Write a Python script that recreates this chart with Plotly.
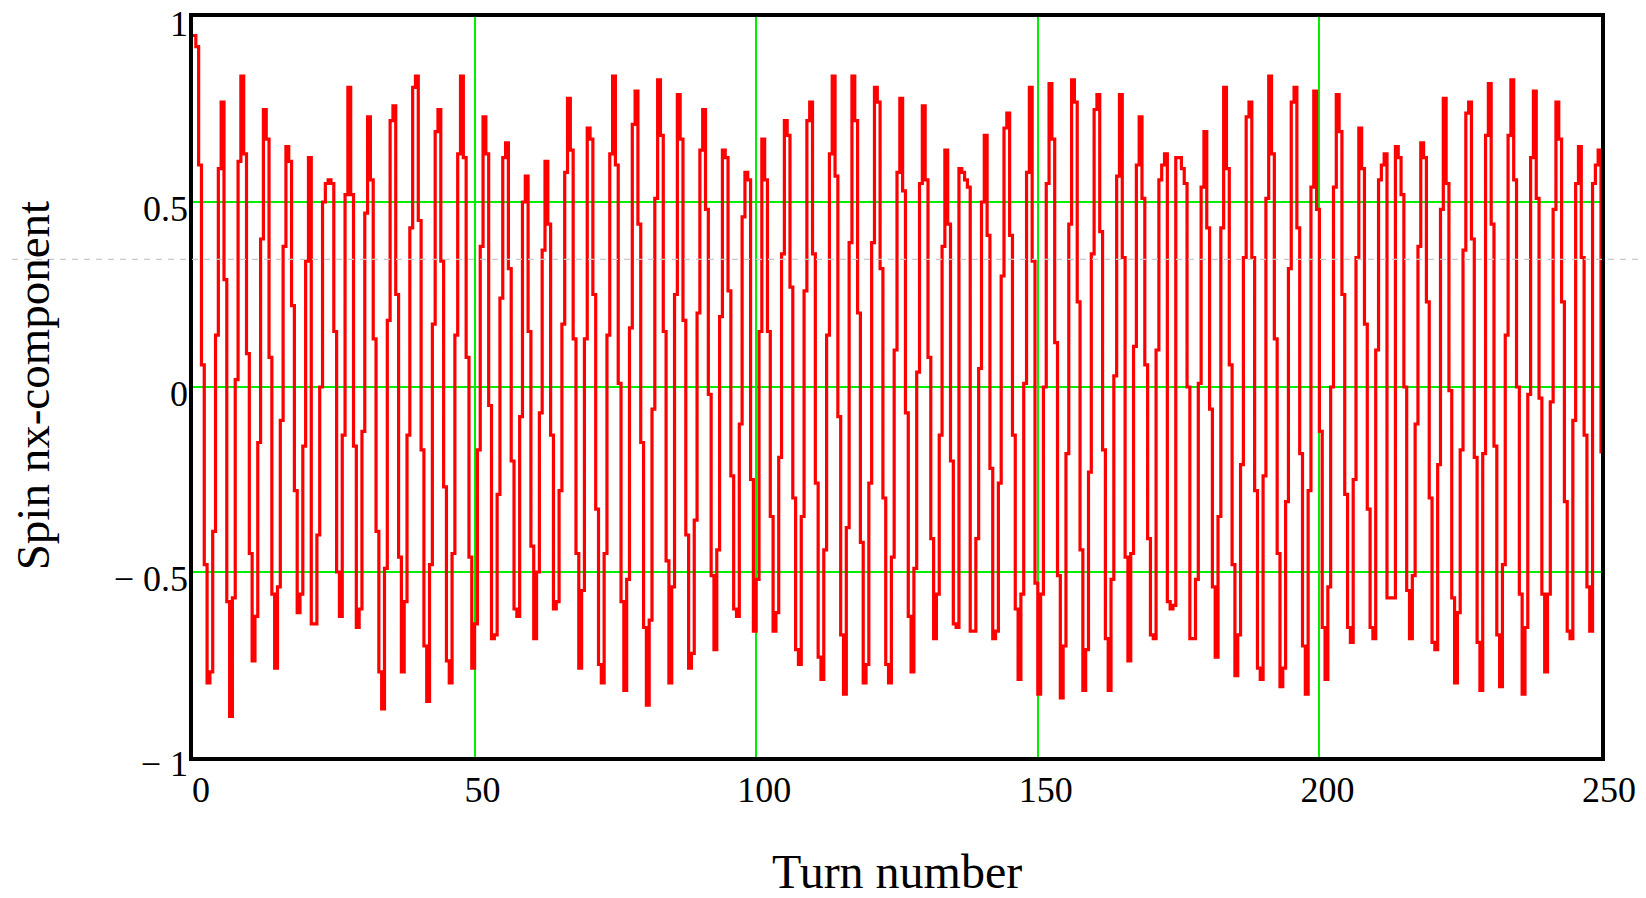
import plotly.graph_objects as go

turn_step = 0.5
nx = [
 0.95, 0.92, 0.60, 0.06, -0.48, -0.80, -0.77, -0.39, 0.14, 0.59,
 0.77, 0.29, -0.58, -0.89, -0.57, 0.02, 0.61, 0.84, 0.63, 0.09,
 -0.45, -0.74, -0.62, -0.15, 0.40, 0.75, 0.67, 0.08, -0.56, -0.76,
 -0.54, -0.09, 0.38, 0.65, 0.61, 0.22, -0.28, -0.61, -0.56, -0.16,
 0.34, 0.62, -0.64, -0.64, -0.40, 0.00, 0.50, 0.55, 0.56, 0.55,
 0.15, -0.50, -0.62, -0.13, 0.52, 0.81, 0.52, -0.16, -0.65, -0.60,
 -0.12, 0.47, 0.73, 0.56, 0.13, -0.39, -0.77, -0.87, -0.49, 0.18,
 0.72, 0.76, 0.25, -0.46, -0.77, -0.58, -0.13, 0.43, 0.81, 0.84,
 0.45, -0.17, -0.70, -0.85, -0.48, 0.17, 0.69, 0.75, 0.34, -0.27,
 -0.74, -0.80, -0.45, 0.14, 0.63, 0.84, 0.62, 0.08, -0.46, -0.76,
 -0.64, -0.17, 0.38, 0.73, 0.63, -0.05, -0.68, -0.67, -0.29, 0.24,
 0.62, 0.66, 0.32, -0.20, -0.60, -0.62, -0.08, 0.50, 0.57, 0.15,
 -0.43, -0.68, -0.50, -0.07, 0.37, 0.61, 0.44, -0.13, -0.60, -0.58,
 -0.28, 0.17, 0.58, 0.78, 0.64, 0.13, -0.45, -0.76, -0.55, 0.13,
 0.70, 0.67, 0.25, -0.33, -0.75, -0.80, -0.45, 0.14, 0.63, 0.84,
 0.60, 0.01, -0.58, -0.82, -0.52, 0.16, 0.71, 0.80, 0.44, -0.15,
 -0.65, -0.86, -0.63, -0.06, 0.51, 0.83, 0.68, 0.15, -0.47, -0.80,
 -0.54, 0.25, 0.79, 0.67, 0.18, -0.40, -0.76, -0.72, -0.36, 0.20,
 0.64, 0.75, 0.48, -0.02, -0.51, -0.71, -0.44, 0.19, 0.64, 0.62,
 0.26, -0.24, -0.60, -0.62, -0.10, 0.46, 0.58, 0.56, -0.25, -0.66,
 -0.52, 0.15, 0.67, 0.56, 0.15, -0.35, -0.66, -0.61, -0.19, 0.36,
 0.72, 0.68, 0.27, -0.30, -0.71, -0.75, -0.35, 0.26, 0.72, 0.77,
 0.36, -0.26, -0.73, -0.79, -0.44, 0.14, 0.63, 0.84, 0.57, -0.08,
 -0.67, -0.83, -0.38, 0.39, 0.84, 0.72, 0.20, -0.42, -0.80, -0.75,
 -0.26, 0.39, 0.81, 0.77, 0.32, -0.30, -0.75, -0.80, -0.46, 0.10,
 0.58, 0.78, 0.53, -0.07, -0.62, -0.77, -0.49, 0.04, 0.55, 0.76,
 0.56, 0.08, -0.41, -0.68, -0.56, -0.13, 0.38, 0.64, 0.44, -0.20,
 -0.64, -0.65, 0.59, 0.58, 0.56, 0.54, -0.66, -0.66, -0.41, 0.05,
 0.50, 0.68, 0.41, -0.22, -0.68, -0.66, -0.26, 0.30, 0.70, 0.74,
 0.41, -0.13, -0.60, -0.79, -0.56, 0.01, 0.58, 0.81, 0.34, -0.53,
 -0.83, -0.56, 0.00, 0.55, 0.82, 0.67, 0.12, -0.51, -0.84, -0.70,
 -0.18, 0.44, 0.83, 0.77, 0.23, -0.44, -0.82, -0.71, -0.23, 0.36,
 0.75, 0.79, 0.42, -0.17, -0.68, -0.82, -0.52, 0.03, 0.57, 0.79,
 0.35, -0.46, -0.74, -0.45, 0.11, 0.60, 0.73, 0.51, 0.06, -0.41,
 -0.67, -0.68, 0.10, 0.56, 0.60, 0.63, -0.58, -0.60, -0.59, 0.62,
 0.62, 0.59, 0.55, 0.00, -0.68, -0.68, -0.52, 0.01, 0.54, 0.69,
 0.43, -0.06, -0.54, -0.73, -0.35, 0.43, 0.81, 0.59, 0.06, -0.48,
 -0.78, -0.67, -0.21, 0.35, 0.73, 0.77, 0.35, -0.28, -0.76, -0.79,
 -0.24, 0.51, 0.84, 0.63, 0.13, -0.45, -0.81, -0.76, -0.31, 0.32,
 0.77, 0.81, 0.43, -0.18, -0.70, -0.83, -0.28, 0.54, 0.80, 0.48,
 -0.12, -0.65, -0.79, -0.54, 0.00, 0.54, 0.79, 0.69, 0.25, -0.29,
 -0.65, -0.69, -0.25, 0.35, 0.70, 0.59, 0.17, -0.33, -0.65, -0.68,
 0.10, 0.56, 0.60, 0.63, -0.57, -0.57, -0.57, 0.65, 0.62, 0.52,
 0.00, -0.55, -0.68, -0.51, -0.10, 0.38, 0.66, 0.62, 0.23, -0.30,
 -0.69, -0.71, -0.21, 0.48, 0.78, 0.55, -0.01, -0.57, -0.80, -0.61,
 -0.17, 0.37, 0.74, 0.77, 0.40, -0.19, -0.69, -0.82, -0.18, 0.68,
 0.82, 0.44, -0.16, -0.67, -0.81, -0.48, 0.14, 0.68, 0.83, 0.56,
 0.00, -0.56, -0.83, -0.65, -0.02, 0.62, 0.80, 0.51, -0.03, -0.56,
 -0.77, -0.56, -0.04, 0.48, 0.77, 0.67, 0.23, -0.31, -0.66, -0.68,
 -0.09, 0.55, 0.65, 0.35, -0.13, -0.54, -0.66, 0.55, 0.60, 0.64,
 -0.18,
]
turns = [i * turn_step for i in range(len(nx))]

x_ticks = [0, 50, 100, 150, 200, 250]
x_ticktext = ["0", "50", "100", "150", "200", "250"]
y_ticks = [-1, -0.5, 0, 0.5, 1]
y_ticktext = ["\u2212 1", "\u2212 0.5", "0", "0.5", "1"]
x_title = "Turn number"
y_title = "Spin nx-component"

FONT = "Liberation Serif, Times New Roman, serif"

fig = go.Figure()
fig.add_trace(go.Scatter(
    x=turns, y=nx, mode="lines", line_shape="hv",
    line=dict(color="#ff0000", width=3.2), showlegend=False,
    hoverinfo="skip",
))

# the page body adds an 8px offset; the figure is sized so the plot box
# lands where the reference has it (x 193..1601, y 17..757 of the window)
fig.update_layout(
    width=1638, height=890,
    margin=dict(l=185, r=45, t=9, b=141, autoexpand=False),
    paper_bgcolor="white", plot_bgcolor="white",
    font=dict(family=FONT, color="black", size=36),
    showlegend=False,
)
fig.update_xaxes(
    range=[0, 250], tickvals=x_ticks, ticktext=x_ticktext,
    showgrid=True, gridcolor="#00ee00", gridwidth=1.6,
    zeroline=False, showline=True, linecolor="black", linewidth=3.5, mirror=True,
    ticks="", tickfont=dict(family=FONT, size=36, color="black"),
    ticklabelshift=8, ticklabelstandoff=-2, ticklabeloverflow="allow",
    automargin=False,
)
fig.update_yaxes(
    range=[-1, 1], tickvals=y_ticks, ticktext=y_ticktext,
    showgrid=True, gridcolor="#00ee00", gridwidth=1.6,
    zeroline=False, showline=True, linecolor="black", linewidth=3.5, mirror=True,
    ticks="", tickfont=dict(family=FONT, size=36, color="black"),
    ticklabelstandoff=-6, ticklabelshift=6, ticklabeloverflow="allow",
    automargin=False,
)

# axis titles
fig.add_annotation(text=x_title, xref="paper", yref="paper", x=0.5, y=-0.155,
                   xanchor="center", yanchor="middle", showarrow=False,
                   font=dict(family=FONT, size=48, color="black"))
fig.add_annotation(text=y_title, xref="paper", yref="paper", x=-0.1136, y=0.501,
                   xanchor="center", yanchor="middle", showarrow=False, textangle=-90,
                   font=dict(family=FONT, size=47, color="black"))

# light dashed guide line across the whole picture
fig.add_shape(type="line", xref="paper", yref="y",
              x0=-193 / 1408, x1=(1646 - 193) / 1408, y0=0.345, y1=0.345,
              line=dict(color="#c8c8c8", width=1.2, dash="6px,6px"), layer="above")

fig.write_html("out.html", config={"displayModeBar": False})
